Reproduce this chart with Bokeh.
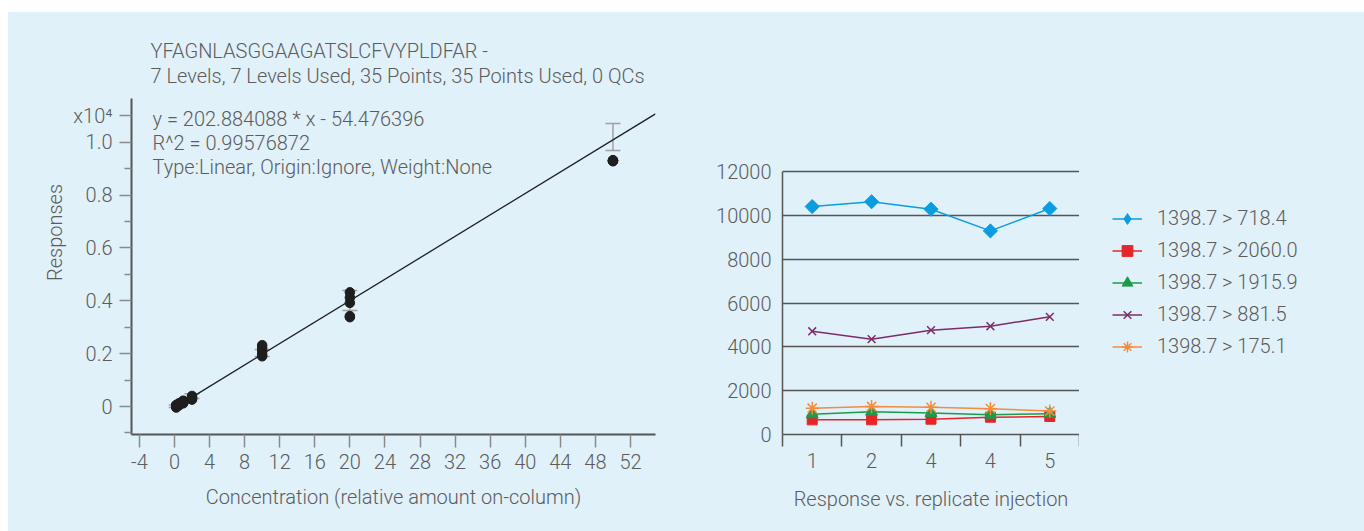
from bokeh.plotting import figure
from bokeh.layouts import row, column, Spacer
from bokeh.models import (FixedTicker, CustomJSTickFormatter, Label, Legend, LegendItem,
                          Range1d, Whisker, TeeHead, ColumnDataSource)
from bokeh.embed import file_html
from bokeh.resources import INLINE

BG = "#e1f1fa"
TXT = "#5c5c5c"
FONT = "'Roboto Light', Roboto"
FS = "20px"

# ---------------- left chart data (responses in x10^4) ----------------
levels = [0.2, 0.5, 1, 2, 10, 20, 50]
resp_02 = [0.002, 0.006, -0.004, 0.0, 0.004]
resp_05 = [0.008, 0.012, 0.004, 0.010, 0.006]
resp_1 = [0.018, 0.022, 0.012, 0.016, 0.020]
resp_2 = [0.030, 0.036, 0.026, 0.040, 0.033]
resp_10 = [0.190, 0.198, 0.210, 0.222, 0.232]
resp_20 = [0.338, 0.342, 0.392, 0.412, 0.432]
resp_50 = [0.928, 0.930, 0.932, 0.929, 0.931]
whisk_lo = [-0.004, 0.004, 0.012, 0.030, 0.189, 0.363, 0.969]
whisk_hi = [0.006, 0.012, 0.022, 0.048, 0.216, 0.439, 1.071]
slope = 202.884088
intercept = -54.476396
fit_x = [0.3, 54.85]
x_ticks = [-4, 0, 4, 8, 12, 16, 20, 24, 28, 32, 36, 40, 44, 48, 52]
y_ticks = [0, 0.2, 0.4, 0.6, 0.8, 1.0, 1.1]
y_minor = [-0.1, 0.1, 0.3, 0.5, 0.7, 0.9]
title_lines = ["YFAGNLASGGAAGATSLCFVYPLDFAR -",
               "7 Levels, 7 Levels Used, 35 Points, 35 Points Used, 0 QCs"]
eq_lines = ["y = 202.884088 * x  - 54.476396",
            "R^2 = 0.99576872",
            "Type:Linear, Origin:Ignore, Weight:None"]

# ---------------- right chart data ----------------
injections = [1, 2, 3, 4, 5]
inj_labels = ["1", "2", "4", "4", "5"]
s_718 = [10400, 10620, 10280, 9290, 10310]
s_2060 = [670, 670, 700, 790, 820]
s_1915 = [920, 1040, 980, 900, 950]
s_881 = [4710, 4350, 4760, 4940, 5370]
s_175 = [1200, 1280, 1240, 1180, 1070]
series_labels = ["1398.7 > 718.4", "1398.7 > 2060.0", "1398.7 > 1915.9",
                 "1398.7 > 881.5", "1398.7 > 175.1"]
y2_ticks = [0, 2000, 4000, 6000, 8000, 10000, 12000]

# ---------------- geometry (page pixels) ----------------
FIG_TOP = 12
FIG_H = 519
FRAME_T, FRAME_B = 30, 434
L1, R1 = 131, 655            # left plot frame
Y0_1, PX_PER_UNIT_1 = 406, 264.3
X1 = (-4.9, 54.85)
Y1 = ((Y0_1 - FRAME_B) / PX_PER_UNIT_1, (Y0_1 - FRAME_T) / PX_PER_UNIT_1)
Y1_AXIS_TOP = (Y0_1 - 98) / PX_PER_UNIT_1

P2_LEFT, L2, R2 = 688, 782, 1079    # right plot canvas left / frame
Y2_PX_12000 = 171
Y2_TOP = 12000 * (FRAME_B - FRAME_T) / (FRAME_B - Y2_PX_12000)
PAGE_R = 1364
BORDER_T = FRAME_T - FIG_TOP
BORDER_B = FIG_TOP + FIG_H - FRAME_B


def dx(px):
    return X1[0] + (px - L1) * (X1[1] - X1[0]) / (R1 - L1)


def dy(py):
    return Y1[1] - (py - FRAME_T) * (Y1[1] - Y1[0]) / (FRAME_B - FRAME_T)


def style_axis(ax, line_w):
    ax.axis_line_color = "#555555"
    ax.axis_line_width = line_w
    ax.major_tick_in = 0
    ax.minor_tick_in = 0
    ax.major_label_text_font = FONT
    ax.major_label_text_font_size = FS
    ax.major_label_text_color = TXT
    ax.axis_label_text_font = FONT
    ax.axis_label_text_font_size = FS
    ax.axis_label_text_color = TXT
    ax.axis_label_text_font_style = "normal"


# ======================= LEFT =======================
p1 = figure(width=P2_LEFT - 8, height=FIG_H, x_range=Range1d(*X1), y_range=Range1d(*Y1),
            output_backend="svg", toolbar_location=None,
            min_border_left=L1 - 8, min_border_right=P2_LEFT - R1,
            min_border_top=BORDER_T, min_border_bottom=BORDER_B,
            background_fill_color=BG, border_fill_color=BG, outline_line_color=None)
p1.grid.visible = False

for ax in (p1.xaxis[0], p1.yaxis[0]):
    style_axis(ax, 2)
    ax.major_tick_line_color = "#8a8a8a"
    ax.minor_tick_line_color = "#8a8a8a"
    ax.major_tick_line_width = 1.5
    ax.minor_tick_line_width = 1.5

p1.xaxis.ticker = FixedTicker(ticks=x_ticks, minor_ticks=[])
p1.xaxis.formatter = CustomJSTickFormatter(code="return String(tick);")
p1.xaxis.major_tick_out = 13
p1.xaxis.major_label_standoff = 6
p1.xaxis.axis_label = "Concentration (relative amount on-column)"
p1.xaxis.axis_label_standoff = 13

p1.yaxis.ticker = FixedTicker(ticks=y_ticks, minor_ticks=y_minor)
p1.yaxis.formatter = CustomJSTickFormatter(
    code="if (tick > 1.05) { return 'x10\u2074'; } return tick == 0 ? '0' : tick.toFixed(1);")
p1.yaxis.bounds = (Y1[0], Y1_AXIS_TOP)
p1.yaxis.major_tick_out = 12
p1.yaxis.minor_tick_out = 7
p1.yaxis.major_label_standoff = 7
p1.yaxis.axis_label = "Responses"
p1.yaxis.axis_label_standoff = 3

fit_y = [(slope * x + intercept) / 1e4 for x in fit_x]
p1.line(fit_x, fit_y, line_color="#1e1e1e", line_width=1.3)

all_resp = [resp_02, resp_05, resp_1, resp_2, resp_10, resp_20, resp_50]
px, py = [], []
for lv, rs in zip(levels, all_resp):
    for r in rs:
        px.append(lv)
        py.append(r)
p1.scatter(px, py, marker="circle", size=9.5, fill_color="#1e1e1e", line_color="#1e1e1e")

wsrc = ColumnDataSource(dict(x=levels, lo=whisk_lo, hi=whisk_hi))
p1.add_layout(Whisker(source=wsrc, base="x", lower="lo", upper="hi", dimension="height",
                      line_color="#a0a0a0", line_width=1.5,
                      upper_head=TeeHead(size=15, line_color="#a0a0a0", line_width=1.5),
                      lower_head=TeeHead(size=15, line_color="#a0a0a0", line_width=1.5)))


def lab(text, pxl, pyc):
    p1.add_layout(Label(x=dx(pxl), y=dy(pyc), text=text,
                        text_font=FONT, text_font_size=FS, text_color=TXT,
                        text_baseline="middle", text_align="left"))


lab(title_lines[0], 150, 50)
lab(title_lines[1], 150, 75)
for i, t in enumerate(eq_lines):
    lab(t, 152, 118 + 24 * i)

# ======================= RIGHT =======================
p2 = figure(width=R2 - P2_LEFT, height=FIG_H, x_range=Range1d(0.5, 5.5), y_range=Range1d(0, Y2_TOP),
            output_backend="svg", toolbar_location=None,
            min_border_left=L2 - P2_LEFT, min_border_right=0,
            min_border_top=BORDER_T, min_border_bottom=BORDER_B,
            background_fill_color=BG, border_fill_color=BG, outline_line_color=None)
p2.xgrid.visible = False
p2.ygrid.ticker = FixedTicker(ticks=y2_ticks[1:], minor_ticks=[])
p2.ygrid.grid_line_color = "#555555"
p2.ygrid.grid_line_width = 1.5

for ax in (p2.xaxis[0], p2.yaxis[0]):
    style_axis(ax, 1.5)
    ax.major_tick_out = 0

p2.yaxis.ticker = FixedTicker(ticks=y2_ticks, minor_ticks=[])
p2.yaxis.bounds = (0, 12000)
p2.yaxis.minor_tick_out = 0
p2.yaxis.major_label_standoff = 11

p2.xaxis.ticker = FixedTicker(ticks=injections, minor_ticks=[0.5, 1.5, 2.5, 3.5, 4.5, 5.5])
p2.xaxis.minor_tick_out = 12
p2.xaxis.minor_tick_line_color = "#555555"
p2.xaxis.minor_tick_line_width = 1.5
p2.xaxis.major_label_overrides = {i: l for i, l in zip(injections, inj_labels)}
p2.xaxis.major_label_standoff = 6
p2.xaxis.axis_label = "Response vs. replicate injection"
p2.xaxis.axis_label_standoff = 16

all_series = [s_718, s_2060, s_1915, s_881, s_175]
colors = ["#0a9ee0", "#e52629", "#1c9a4b", "#7a2d68", "#f48c3b"]
plot_markers = [dict(marker="square", size=10, angle=0.785398),
                dict(marker="square", size=10),
                dict(marker="triangle", size=12),
                dict(marker="x", size=11, line_width=1.5),
                dict(marker="asterisk", size=13, line_width=1.5)]
legend_markers = [dict(marker="diamond"),
                  dict(marker="square"),
                  dict(marker="triangle"),
                  dict(marker="x", line_width=1.5),
                  dict(marker="asterisk", line_width=1.5)]
for vals, col, mk in zip(all_series, colors, plot_markers):
    p2.line(injections, vals, line_color=col, line_width=1.5)
    p2.scatter(injections, vals, fill_color=col, line_color=col, **mk)

# ======================= LEGEND PANEL =======================
# the series are plotted here too, outside the visible ranges, so that the legend
# (which sits to the right of the plot frame) can draw their glyphs
p3 = figure(width=PAGE_R - R2, height=FIG_H, x_range=Range1d(-20, -19), y_range=Range1d(-20, -19),
            output_backend="svg", toolbar_location=None,
            x_axis_location=None, y_axis_location=None,
            min_border_left=0, min_border_right=0,
            min_border_top=BORDER_T, min_border_bottom=BORDER_B,
            background_fill_color=BG, border_fill_color=BG, outline_line_color=None)
p3.grid.visible = False
items = []
for vals, col, mk, lbl in zip(all_series, colors, legend_markers, series_labels):
    lr = p3.line(injections, vals, line_color=col, line_width=1.5)
    sr = p3.scatter(injections, vals, fill_color=col, line_color=col, **mk)
    items.append(LegendItem(label=lbl, renderers=[lr, sr]))

legend = Legend(items=items, location=(33, 74.5), border_line_color=None,
                background_fill_alpha=0, label_text_font=FONT, label_text_font_size=FS,
                label_text_color=TXT, glyph_width=30, glyph_height=27, spacing=5,
                padding=4, margin=0, label_standoff=15)
p3.add_layout(legend)

for p in (p1, p2, p3):
    p.styles = {"background-color": BG}

charts = row(p1, p2, p3, styles={"background-color": BG})
layout = column(Spacer(width=PAGE_R, height=FIG_TOP), row(Spacer(width=8, height=FIG_H), charts))
open("out.html", "w").write(file_html(layout, INLINE))
